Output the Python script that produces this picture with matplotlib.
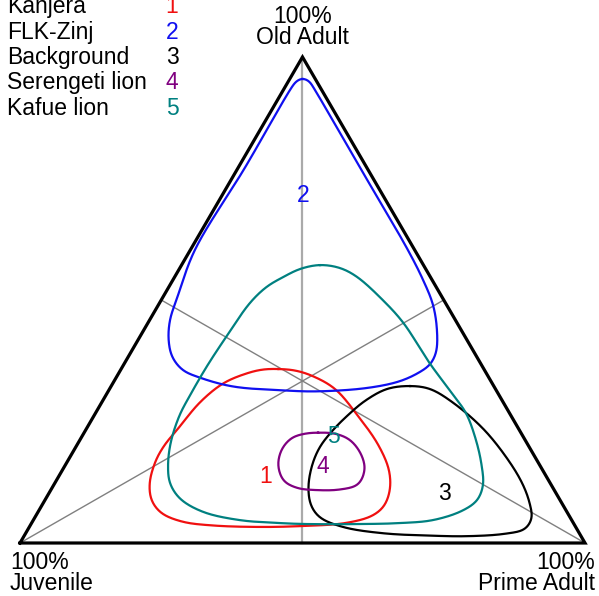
import numpy as np
import matplotlib.pyplot as plt

plt.rcParams['font.family'] = ['Liberation Sans', 'DejaVu Sans']

# 95% regions, percent of each age class
# (Prime Adult, Old Adult); Juvenile is the remainder to 100
kanjera_prime = [27.8, 30.9, 34.5, 39.9, 46.8, 53.3, 57.8, 60.0, 60.6, 59.5, 55.5, 48.3, 41.4,
                 32.4, 26.5, 21.9, 18.9, 16.8, 15.6, 15.5, 16.2, 17.4, 19.6, 22.9, 25.2]
kanjera_old = [35.8, 35.5, 34.4, 31.7, 26.1, 20.2, 15.0, 10.9, 7.6, 5.6, 4.1, 3.5, 3.3,
               3.6, 4.4, 6.2, 8.8, 12.3, 16.7, 20.0, 23.5, 29.0, 32.9, 35.0, 35.7]

zinj_prime = [2.2, 3.7, 5.1, 21.6, 38.5, 44.3, 48.6, 51.9, 54.0, 54.2, 53.2, 50.6, 45.5,
              37.0, 30.9, 21.6, 14.9, 11.0, 7.8, 5.4, 3.6, 2.6, 0.8, 1.2, 1.2, 1.4]
zinj_old = [95.6, 95.0, 93.7, 77.2, 60.3, 54.1, 49.0, 43.8, 39.3, 36.8, 35.2, 33.3, 31.9,
            31.2, 31.4, 32.2, 34.0, 35.6, 38.3, 41.8, 45.9, 50.4, 60.3, 77.2, 93.7, 95.0]

background_prime = [52.9, 56.7, 62.0, 70.5, 78.5, 83.1, 86.1, 88.0, 87.9, 84.9, 78.4, 72.3,
                    63.3, 55.5, 50.4, 47.6, 45.3, 43.7, 43.2, 43.8, 44.8, 46.4, 49.1]
background_old = [32.3, 31.7, 29.0, 23.3, 16.5, 11.9, 8.2, 5.1, 2.9, 1.9, 1.4, 1.5,
                  2.0, 3.3, 5.3, 7.8, 11.5, 16.0, 19.8, 23.3, 26.1, 29.2, 31.7]

serengeti_prime = [41.4, 44.5, 47.8, 51.2, 53.4, 53.8, 51.1, 46.8, 43.5, 40.3, 37.7, 36.7, 37.3, 39.2]
serengeti_old = [22.7, 22.5, 21.2, 18.3, 15.2, 12.1, 11.0, 10.9, 11.3, 12.8, 16.0, 19.3, 21.6, 22.5]

kafue_prime = [24.5, 28.3, 32.2, 39.2, 45.2, 54.0, 61.4, 65.6, 70.1, 73.7, 76.0, 76.5, 74.9,
               70.7, 65.2, 58.2, 48.8, 44.0, 36.6, 29.2, 23.8, 20.4, 18.2, 16.3, 15.1, 14.9,
               14.9, 15.3, 16.0, 17.3, 19.2, 21.4]
kafue_old = [57.2, 56.6, 54.8, 50.0, 45.3, 37.0, 30.5, 26.7, 21.2, 16.0, 11.9, 8.8, 6.6,
             4.7, 4.1, 3.9, 3.9, 4.1, 4.7, 6.4, 9.1, 12.3, 16.0, 20.8, 26.3, 30.5,
             36.4, 42.6, 49.4, 52.7, 54.7, 56.4]

names = ['Kanjera', 'FLK-Zinj', 'Background', 'Serengeti lion', 'Kafue lion']
numbers = ['1', '2', '3', '4', '5']
colors = ['#f01010', '#1010f0', 'black', '#800080', '#008080']
label_prime = [36.6, 14.4, 70.0, 45.8, 44.5]
label_old = [13.6, 71.4, 10.1, 15.7, 22.0]

regions = [(kanjera_prime, kanjera_old), (zinj_prime, zinj_old),
           (background_prime, background_old), (serengeti_prime, serengeti_old),
           (kafue_prime, kafue_old)]

FS = 16.5
SX, SY = 565.0, 486.0  # pixel scale of the triangle


def tern(prime, old):
    p = np.asarray(prime, float) / 100
    o = np.asarray(old, float) / 100
    return p + o / 2, o


def closed_curve(x, y, n=16, sigma=3.0):
    # centripetal catmull-rom through the read points, then a light smoothing
    pts = np.column_stack([np.asarray(x) * SX, np.asarray(y) * SY])
    P = np.vstack([pts[-1], pts, pts[0], pts[1]])
    out = []
    for i in range(1, len(pts) + 1):
        p0, p1, p2, p3 = P[i - 1], P[i], P[i + 1], P[i + 2]
        t0 = 0.0
        t1 = t0 + np.linalg.norm(p1 - p0) ** 0.5
        t2 = t1 + np.linalg.norm(p2 - p1) ** 0.5
        t3 = t2 + np.linalg.norm(p3 - p2) ** 0.5
        t = np.linspace(t1, t2, n, endpoint=False)[:, None]
        a1 = (t1 - t) / (t1 - t0) * p0 + (t - t0) / (t1 - t0) * p1
        a2 = (t2 - t) / (t2 - t1) * p1 + (t - t1) / (t2 - t1) * p2
        a3 = (t3 - t) / (t3 - t2) * p2 + (t - t2) / (t3 - t2) * p3
        b1 = (t2 - t) / (t2 - t0) * a1 + (t - t0) / (t2 - t0) * a2
        b2 = (t3 - t) / (t3 - t1) * a2 + (t - t1) / (t3 - t1) * a3
        out.append((t2 - t) / (t2 - t1) * b1 + (t - t1) / (t2 - t1) * b2)
    c = np.vstack(out)
    seg = np.linalg.norm(np.diff(np.vstack([c, c[:1]]), axis=0), axis=1)
    s = np.concatenate([[0], np.cumsum(seg)])
    L = s[-1]
    m = int(L)
    su = np.linspace(0, L, m, endpoint=False)
    cc = np.vstack([c, c[:1]])
    ux = np.interp(su, s, cc[:, 0])
    uy = np.interp(su, s, cc[:, 1])
    k = np.arange(-int(4 * sigma), int(4 * sigma) + 1)
    w = np.exp(-0.5 * (k / sigma) ** 2)
    w /= w.sum()
    idx = (np.arange(m)[:, None] + k[None, :]) % m
    sx = (ux[idx] * w).sum(axis=1)
    sy = (uy[idx] * w).sum(axis=1)
    sx = np.append(sx, sx[0]) / SX
    sy = np.append(sy, sy[0]) / SY
    return sx, sy


fig = plt.figure(figsize=(5.99, 5.96), dpi=100)
ax = fig.add_axes([0, 0, 1, 1])
ax.set_xlim(-20 / SX, 579 / SX)
ax.set_ylim(-53 / SY, 543 / SY)
ax.axis('off')

# medians
vx, vy = tern([0, 100, 0], [0, 0, 100])
mx, my = tern([50, 0, 50], [50, 50, 0])
ax.plot([vx[2], mx[2]], [vy[2], my[2]], color='#aaaaaa', lw=1.6, zorder=1)
for k in (0, 1):
    ax.plot([vx[k], mx[k]], [vy[k], my[k]], color='#808080', lw=1.0, zorder=1)

for (pr, ol), c in zip(regions, colors):
    x, y = tern(pr, ol)
    cx, cy = closed_curve(x, y)
    ax.plot(cx, cy, color=c, lw=1.6, zorder=2)

for num, c, pr, ol in zip(numbers, colors, label_prime, label_old):
    x, y = tern(pr, ol)
    ax.text(x, y, num, color=c, fontsize=FS, ha='center', va='center', zorder=3)

# triangle
ax.plot(np.append(vx, vx[0]), np.append(vy, vy[0]), color='black', lw=2.3,
        solid_joinstyle='miter', zorder=4)

ax.text(vx[2], vy[2] + 8 / SY, '100%\nOld Adult', ha='center', va='bottom',
        fontsize=FS, linespacing=0.9)
ax.text(vx[0] - 10 / SX, vy[0] - 8 / SY, '100%\nJuvenile', ha='left', va='top',
        fontsize=FS, linespacing=0.9)
ax.text(vx[1] + 10 / SX, vy[1] - 8 / SY, '100%\nPrime Adult', ha='right', va='top',
        fontsize=FS, linespacing=0.9)

for i, (nm, num, c) in enumerate(zip(names, numbers, colors)):
    yb = 1 - (13.3 + 25.4 * i) / 596
    fig.text(7 / 599, yb, nm, fontsize=FS, va='baseline', ha='left')
    fig.text(172 / 599, yb, num, fontsize=FS, va='baseline', ha='center', color=c)

fig.savefig('out.png', dpi=100)
